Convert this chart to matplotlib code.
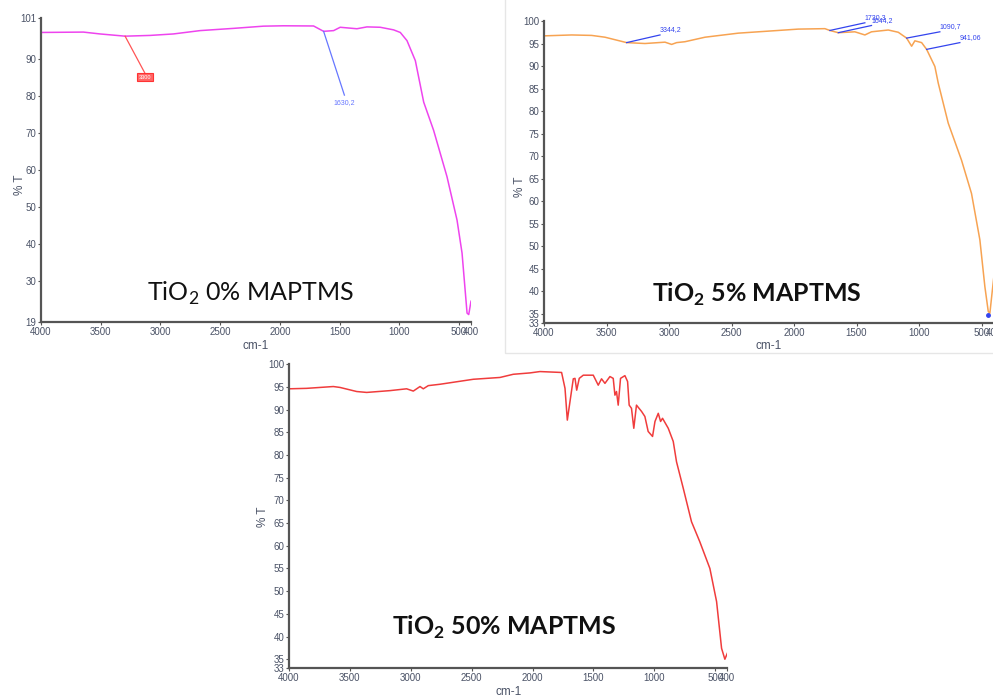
import matplotlib
matplotlib.use("Agg")
import matplotlib.pyplot as plt
from matplotlib.patches import Rectangle

# ---------------- data ----------------
wn_0 = [4000, 3645, 3506, 3296, 3087, 2891, 2668, 2389, 2137, 1970, 1718, 1634,
        1550, 1495, 1355, 1271, 1160, 1048, 992, 936, 866, 796, 713, 601, 517,
        475, 433, 419, 400]
t_0 = [97.1, 97.2, 96.7, 96.1, 96.3, 96.7, 97.6, 98.2, 98.8, 98.9, 98.85, 97.4,
       97.6, 98.5, 98.1, 98.6, 98.5, 97.8, 97.1, 94.9, 89.5, 78.3, 70.7, 58.2, 46.5,
       37.6, 21.4, 21.0, 24.6]

wn_5 = [4000, 3779, 3619, 3512, 3339, 3192, 3032, 2979, 2939, 2872, 2712, 2446,
        2179, 1966, 1753, 1713, 1646, 1513, 1433, 1380, 1246, 1166, 1099, 1059,
        1033, 979, 939, 873, 846, 766, 660, 580, 513, 473, 446, 433, 414, 402]
t_5 = [96.7, 96.9, 96.8, 96.4, 95.2, 95.0, 95.3, 94.8, 95.2, 95.4, 96.4, 97.3,
       97.8, 98.2, 98.3, 97.9, 97.4, 97.6, 96.9, 97.6, 98.0, 97.5, 96.2, 94.4,
       95.6, 95.2, 93.7, 89.9, 86.2, 77.3, 69.1, 61.7, 51.4, 41.0, 35.5, 35.1, 40.0, 43.0]

wn_50 = [4000, 3855, 3636, 3581, 3444, 3362, 3170, 3034, 2979, 2924, 2897, 2856,
         2760, 2486, 2267, 2158, 2021, 1939, 1761, 1733, 1714, 1692, 1665, 1651,
         1637, 1616, 1583, 1501, 1460, 1433, 1405, 1364, 1337, 1323, 1310, 1296,
         1277, 1241, 1219, 1206, 1187, 1168, 1146, 1104, 1077, 1050, 1014, 994,
         967, 948, 932, 885, 844, 817, 762, 694, 626, 543, 488, 447, 420, 400]
t_50 = [94.6, 94.7, 95.1, 94.9, 94.0, 93.8, 94.2, 94.6, 94.1, 95.1, 94.6, 95.3,
        95.6, 96.7, 97.1, 97.8, 98.1, 98.4, 98.2, 94.7, 87.7, 91.8, 96.8, 96.9,
        94.3, 96.9, 97.6, 97.6, 95.4, 96.8, 95.8, 97.3, 96.9, 93.2, 94.0, 91.0,
        96.9, 97.5, 96.2, 91.0, 90.3, 85.9, 91.0, 89.6, 88.5, 85.2, 84.1, 87.4,
        89.2, 87.4, 88.1, 85.9, 83.0, 78.5, 72.7, 65.3, 60.9, 55.0, 47.7, 37.4, 35.0, 36.3]

x_ticks = [4000, 3500, 3000, 2500, 2000, 1500, 1000, 500, 400]
y_ticks_0 = [19, 30, 40, 50, 60, 70, 80, 90, 101]
y_ticks_5 = [33, 35, 40, 45, 50, 55, 60, 65, 70, 75, 80, 85, 90, 95, 100]
titles = ["TiO$_\\mathregular{2}$ 0% MAPTMS",
          "TiO$_\\mathregular{2}$ 5% MAPTMS",
          "TiO$_\\mathregular{2}$ 50% MAPTMS"]

# peak labels: (text, peak wn, peak T, label wn, label T)
peaks_0 = [("3300", 3296, 96.1, 3128, 85.0, "#ff5555"),
           ("1630,2", 1634, 97.4, 1460, 79.2, "#6677ff")]
peaks_5 = [("3344,2", 3339, 95.2, 3072, 96.9),
           ("1730,3", 1713, 97.9, 1433, 99.6),
           ("1644,2", 1646, 97.4, 1380, 99.0),
           ("1090,7", 1099, 96.2, 833, 97.6),
           ("941,06", 939, 93.7, 673, 95.2)]

# ---------------- figure ----------------
W, H = 993, 697
fig = plt.figure(figsize=(W / 100, H / 100), dpi=100)
plt.rcParams['font.family'] = ['Liberation Sans', 'DejaVu Sans']

tick_col = "#4a5266"
spine_col = "#555555"


def fr(x0, y0, x1, y1):
    return [x0 / W, 1 - y1 / H, (x1 - x0) / W, (y1 - y0) / H]


def style(ax, yticks, ylim, xlabel=True):
    ax.set_xlim(4000, 400)
    ax.set_ylim(*ylim)
    ax.set_xticks(x_ticks)
    ax.set_yticks(yticks)
    ax.set_xticklabels([str(v) for v in x_ticks])
    ax.set_yticklabels([str(v) for v in yticks])
    for s in ("top", "right"):
        ax.spines[s].set_visible(False)
    for s in ("left", "bottom"):
        ax.spines[s].set_color(spine_col)
        ax.spines[s].set_linewidth(1.6)
    ax.tick_params(axis="both", direction="out", length=2.5, width=0.8,
                   colors=spine_col, labelcolor=tick_col, labelsize=7, pad=1)
    ax.set_ylabel("% T", fontsize=8.5, color=tick_col, labelpad=8)
    if xlabel:
        ax.set_xlabel("cm-1", fontsize=8.5, color=tick_col, labelpad=2)
    ax.patch.set_alpha(0)


# light frame around the top-right panel
fig.patches.append(Rectangle((505 / W, 1 - 353 / H), 490 / W, 355 / H,
                             transform=fig.transFigure, fill=False,
                             edgecolor="#e6e6e6", linewidth=1.0))

# Panel 1
ax1 = fig.add_axes(fr(41, 18, 471, 322))
ax1.plot(wn_0, t_0, color="#ee44ee", lw=1.1)
style(ax1, y_ticks_0, (19, 101))
txt, px, py, lx, ly, c = peaks_0[0]
ax1.plot([px, lx], [py, ly + 1.0], color=c, lw=0.9)
ax1.text(lx, ly, txt, fontsize=4, color="white", ha="center", va="center",
         bbox=dict(boxstyle="square,pad=0.3", fc="#ff6666", ec="#ff3333", lw=0.8))
txt, px, py, lx, ly, c = peaks_0[1]
ax1.plot([px, lx], [py, ly + 1.0], color=c, lw=0.9)
ax1.text(lx, ly, txt, fontsize=5, color=c, ha="center", va="top")
ax1.text(0.486, 0.095, titles[0], transform=ax1.transAxes, ha="center", va="center",
         fontsize=18, family=["Lato", "DejaVu Sans"], color="#111111")
ax1.yaxis.set_label_coords(-0.035, 0.45)

# Panel 2
ax2 = fig.add_axes(fr(544, 21, 994, 322.7))
ax2.plot(wn_5, t_5, color="#f7a352", lw=1.1)
style(ax2, y_ticks_5, (33, 100))
for txt, px, py, lx, ly in peaks_5:
    ax2.plot([px, lx], [py, ly], color="#3344ee", lw=0.9, clip_on=False)
    ax2.text(lx, ly + 0.4, txt, fontsize=5, color="#3344ee", ha="left", va="bottom",
             clip_on=False)
ax2.plot([446], [34.8], marker="o", ms=2.5, color="#3344ee")
ax2.text(0.472, 0.095, titles[1], transform=ax2.transAxes, ha="center", va="center",
         fontsize=18, fontweight="bold", family=["Lato", "DejaVu Sans"], color="#111111")
ax2.yaxis.set_label_coords(-0.04, 0.45)

# Panel 3
ax3 = fig.add_axes(fr(289, 364.3, 727.3, 668.3))
ax3.plot(wn_50, t_50, color="#f03c3c", lw=1.1)
style(ax3, y_ticks_5, (33, 100))
ax3.text(0.49, 0.133, titles[2], transform=ax3.transAxes, ha="center", va="center",
         fontsize=18, fontweight="bold", family=["Lato", "DejaVu Sans"], color="#111111")
ax3.yaxis.set_label_coords(-0.045, 0.5)

fig.savefig("out.png", dpi=100)
